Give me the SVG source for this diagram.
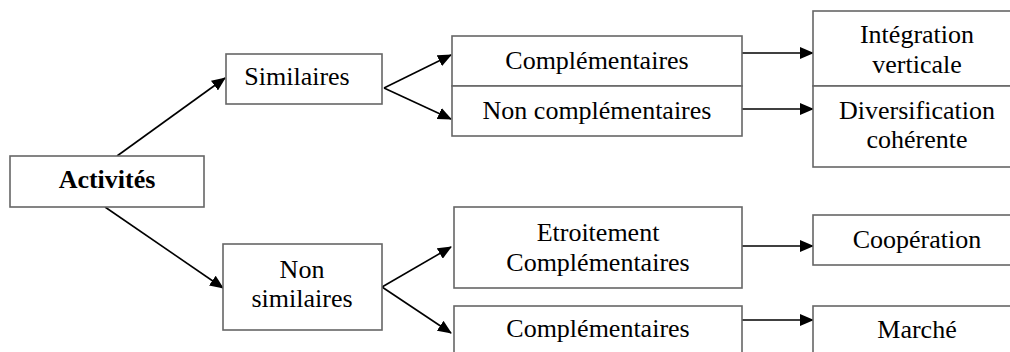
<svg xmlns="http://www.w3.org/2000/svg" width="1010" height="352" viewBox="0 0 1010 352">
<style>
.box{fill:#fff;stroke:#666;stroke-width:1.6}
.t{font-family:"Liberation Serif","Times New Roman",serif;font-size:26px;fill:#000;text-anchor:middle}
.b{font-weight:bold}
.c{stroke:#000;stroke-width:1.6;fill:none;marker-end:url(#ah)}
</style>
<defs>
<marker id="ah" markerUnits="userSpaceOnUse" markerWidth="14" markerHeight="12" refX="13" refY="6" orient="auto">
<path d="M0,0 L14,6 L0,12 z" fill="#000"/>
</marker>
</defs>
<rect width="1010" height="352" fill="#fff"/>
<g id="connectors">
<line class="c" x1="117" y1="156" x2="225" y2="78"/>
<line class="c" x1="105" y1="207" x2="223" y2="288"/>
<line class="c" x1="384" y1="88" x2="451" y2="55"/>
<line class="c" x1="384" y1="88" x2="451" y2="119"/>
<line class="c" x1="382" y1="287" x2="451" y2="247"/>
<line class="c" x1="382" y1="287" x2="451" y2="333"/>
<line class="c" x1="742" y1="53" x2="813" y2="53"/>
<line class="c" x1="742" y1="109" x2="813" y2="109"/>
<line class="c" x1="742" y1="246" x2="813" y2="246"/>
<line class="c" x1="742" y1="320" x2="813" y2="320"/>
</g>
<g id="activites">
<rect class="box" x="10" y="156" width="194" height="51"/>
<text class="t b" x="107" y="188">Activités</text>
</g>
<g id="similaires">
<rect class="box" x="226" y="54" width="156" height="50"/>
<text class="t" x="297" y="85">Similaires</text>
</g>
<g id="non-similaires">
<rect class="box" x="223" y="244" width="159" height="86"/>
<text class="t" x="302" y="278">Non</text>
<text class="t" x="302" y="307">similaires</text>
</g>
<g id="complementaires">
<rect class="box" x="452" y="36" width="290" height="50"/>
<text class="t" x="597" y="69">Complémentaires</text>
</g>
<g id="non-complementaires">
<rect class="box" x="452" y="86" width="290" height="50"/>
<text class="t" x="597" y="119">Non complémentaires</text>
</g>
<g id="etroitement">
<rect class="box" x="454" y="207" width="288" height="81"/>
<text class="t" x="598" y="241">Etroitement</text>
<text class="t" x="598" y="271">Complémentaires</text>
</g>
<g id="complementaires-2">
<rect class="box" x="454" y="306" width="288" height="60"/>
<text class="t" x="598" y="337">Complémentaires</text>
</g>
<g id="integration">
<rect class="box" x="813" y="11" width="208" height="75"/>
<text class="t" x="917" y="43">Intégration</text>
<text class="t" x="917" y="73">verticale</text>
</g>
<g id="diversification">
<rect class="box" x="813" y="86" width="208" height="81"/>
<text class="t" x="917" y="119">Diversification</text>
<text class="t" x="917" y="148">cohérente</text>
</g>
<g id="cooperation">
<rect class="box" x="813" y="215" width="208" height="50"/>
<text class="t" x="917" y="248">Coopération</text>
</g>
<g id="marche">
<rect class="box" x="813" y="306" width="208" height="60"/>
<text class="t" x="917" y="338">Marché</text>
</g>
</svg>
